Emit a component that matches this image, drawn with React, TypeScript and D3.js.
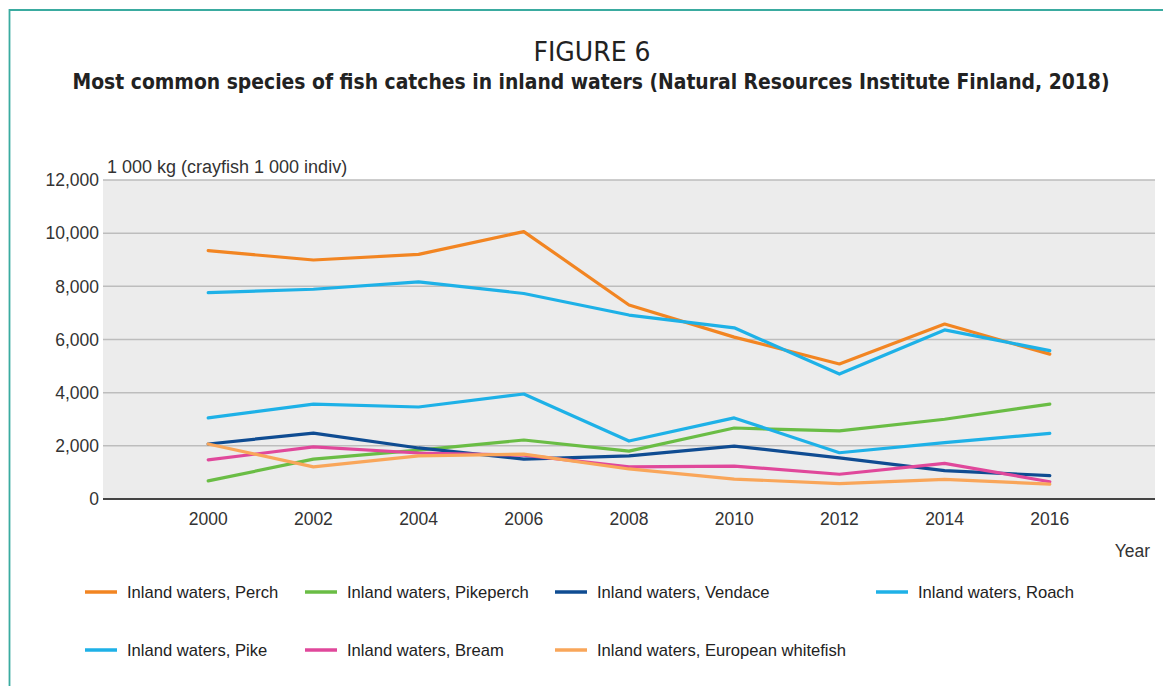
import React from "react";
import * as d3 from "d3";

const years = [2000, 2002, 2004, 2006, 2008, 2010, 2012, 2014, 2016];
const perch = [9340, 8990, 9200, 10060, 7300, 6090, 5080, 6580, 5450];
const pikeperch = [680, 1500, 1840, 2220, 1800, 2670, 2560, 3000, 3570];
const vendace = [2070, 2480, 1920, 1500, 1620, 1990, 1550, 1070, 880];
const roach = [7760, 7890, 8170, 7730, 6920, 6440, 4700, 6360, 5580];
const pike = [3050, 3570, 3460, 3950, 2180, 3050, 1740, 2120, 2470];
const bream = [1470, 1960, 1730, 1650, 1210, 1240, 930, 1340, 650];
const whitefish = [2070, 1210, 1620, 1690, 1130, 750, 580, 740, 560];

const seriesNames = [
  "Inland waters, Perch",
  "Inland waters, Pikeperch",
  "Inland waters, Vendace",
  "Inland waters, Roach",
  "Inland waters, Pike",
  "Inland waters, Bream",
  "Inland waters, European whitefish",
];
const seriesValues = [perch, pikeperch, vendace, roach, pike, bream, whitefish];
const seriesColors = ["#f28522", "#6abd45", "#0f4c92", "#1eb1e7", "#1eb1e7", "#e0489b", "#f9a65a"];
const yTicks = [0, 2000, 4000, 6000, 8000, 10000, 12000];

const titleText = "FIGURE 6";
const subtitleText = "Most common species of fish catches in inland waters (Natural Resources Institute Finland, 2018)";
const unitText = "1 000 kg (crayfish 1 000 indiv)";
const xTitle = "Year";

export default function App() {
  const W = 1163, H = 686;
  const left = 103, right = 1155, top = 180, bottom = 499;
  const x = d3.scaleLinear().domain([1998, 2018]).range([left, right]);
  const y = d3.scaleLinear().domain([0, 12000]).range([bottom, top]);
  const line = d3.line<number>().x((_, i) => x(years[i])).y((v) => y(v));
  const fmt = d3.format(",");
  const axisFont = "'Liberation Sans', Arial, sans-serif";

  const legendCols = [85, 305, 555, 876];
  const legendRows = [592, 650];

  return (
    <svg width={W} height={H} style={{ position: "absolute", left: 0, top: 0, background: "#fff" }}>
      {/* frame */}
      <path d={`M9.5,${H} L9.5,10 L${W},10`} fill="none" stroke="#3aaba0" strokeWidth={1.8} />
      {/* titles */}
      <text x={592} y={61} textAnchor="middle" fontFamily="'Liberation Sans Narrow', 'DejaVu Sans Condensed', sans-serif" fontSize={26} fill="#222" textLength={117} lengthAdjust="spacingAndGlyphs">{titleText}</text>
      <text x={591} y={89} textAnchor="middle" fontFamily="'Liberation Sans Narrow', 'DejaVu Sans Condensed', sans-serif" fontWeight="bold" fontSize={22} fill="#222" textLength={1037} lengthAdjust="spacingAndGlyphs">{subtitleText}</text>
      {/* plot background */}
      <rect x={left} y={top} width={right - left} height={bottom - top} fill="#ececec" />
      {yTicks.filter((t) => t > 0).map((t) => (
        <line key={t} x1={left} x2={right} y1={y(t)} y2={y(t)} stroke="#bdbdbd" strokeWidth={1.5} />
      ))}
      {yTicks.map((t) => (
        <text key={"yl" + t} x={99} y={y(t)} dy="0.36em" textAnchor="end" fontFamily={axisFont} fontSize={17.5} fill="#333">{fmt(t)}</text>
      ))}
      <text x={107} y={173} fontFamily={axisFont} fontSize={18} fill="#333">{unitText}</text>
      {years.filter((yr) => yr % 2 === 0).map((yr) => (
        <text key={"xl" + yr} x={x(yr)} y={525} textAnchor="middle" fontFamily={axisFont} fontSize={17.5} fill="#333">{yr}</text>
      ))}
      <text x={1150} y={557} textAnchor="end" fontFamily={axisFont} fontSize={17.5} fill="#333">{xTitle}</text>
      {/* series */}
      {seriesValues.map((vals, i) => (
        <path key={"s" + i} d={line(vals) || ""} fill="none" stroke={seriesColors[i]} strokeWidth={3.2} strokeLinejoin="round" strokeLinecap="round" />
      ))}
      {/* x axis line */}
      <line x1={left} x2={right} y1={bottom} y2={bottom} stroke="#444" strokeWidth={2} />
      {/* legend */}
      {seriesNames.map((name, i) => {
        const col = i < 4 ? i : i - 4;
        const row = i < 4 ? 0 : 1;
        const lx = legendCols[col];
        const ly = legendRows[row];
        return (
          <g key={"lg" + i}>
            <line x1={lx} x2={lx + 32} y1={ly} y2={ly} stroke={seriesColors[i]} strokeWidth={3.5} />
            <text x={lx + 42} y={ly} dy="0.36em" fontFamily={axisFont} fontSize={16.6} fill="#222">{name}</text>
          </g>
        );
      })}
    </svg>
  );
}
